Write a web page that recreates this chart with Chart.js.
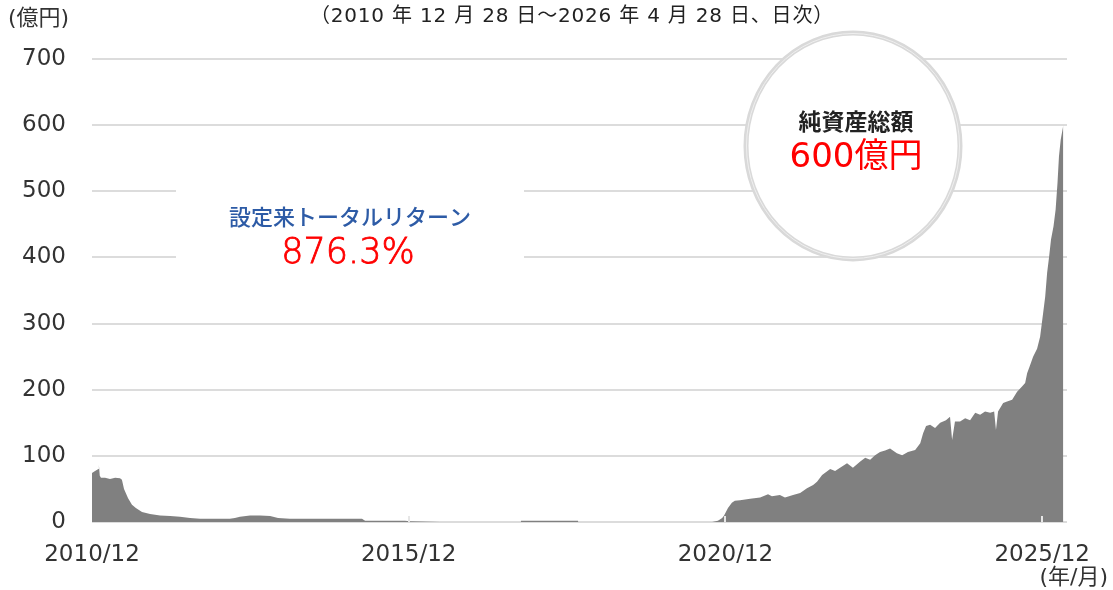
<!DOCTYPE html>
<html>
<head>
<meta charset="utf-8">
<script src="https://cdn.jsdelivr.net/npm/chart.js@4"></script>
<style>
  html, body { margin: 0; padding: 0; background: #fff; }
  #wrap { width: 1113px; height: 590px; }
</style>
</head>
<body>
<div id="wrap"><canvas id="assetChart" width="1113" height="590"></canvas></div>
<script>
// 純資産総額 (億円)
const dates = [
  '2010-12-28', '2011-01-15', '2011-02-04', '2011-02-07', '2011-02-12', '2011-02-19', '2011-03-12',
  '2011-04-10', '2011-05-09', '2011-06-07', '2011-06-18', '2011-06-30', '2011-07-23', '2011-08-15',
  '2011-09-07', '2011-10-12', '2011-11-28', '2012-01-25', '2012-03-22', '2012-05-18', '2012-07-15',
  '2012-09-12', '2013-03-01', '2013-03-30', '2013-04-29', '2013-06-26', '2013-08-23', '2013-10-20',
  '2013-12-05', '2014-02-12', '2014-09-30', '2015-04-02', '2015-04-20', '2015-12-06', '2016-01-05',
  '2016-04-29', '2016-06-26', '2017-10-05', '2017-10-06', '2018-08-30', '2018-08-31', '2020-10-12',
  '2020-11-15', '2020-12-09', '2020-12-20', '2021-01-12', '2021-02-04', '2021-02-21', '2021-03-21',
  '2021-05-18', '2021-07-15', '2021-08-30', '2021-09-22', '2021-11-07', '2021-12-06', '2022-01-22',
  '2022-03-02', '2022-04-11', '2022-05-16', '2022-06-08', '2022-07-07', '2022-08-23', '2022-09-21',
  '2022-10-19', '2022-11-29', '2023-01-02', '2023-02-12', '2023-03-12', '2023-04-10', '2023-05-08',
  '2023-06-06', '2023-07-05', '2023-08-03', '2023-09-12', '2023-10-12', '2023-11-15', '2023-12-26',
  '2024-01-25', '2024-02-11', '2024-02-28', '2024-03-21', '2024-04-19', '2024-05-18', '2024-06-21',
  '2024-07-14', '2024-07-26', '2024-08-12', '2024-09-11', '2024-10-10', '2024-11-08', '2024-12-07',
  '2025-01-05', '2025-02-03', '2025-03-02', '2025-03-25', '2025-04-05', '2025-04-17', '2025-05-16',
  '2025-06-08', '2025-07-07', '2025-08-05', '2025-09-03', '2025-09-21', '2025-10-02', '2025-10-19',
  '2025-11-06', '2025-11-29', '2025-12-16', '2026-01-03', '2026-01-15', '2026-01-26', '2026-02-07',
  '2026-02-18', '2026-03-02', '2026-03-14', '2026-03-25', '2026-04-03', '2026-04-13', '2026-04-28'
];
const netAssets = [
  74, 77, 80, 86, 70, 67, 67,
  65, 67, 66, 64, 50, 36, 26,
  21, 15, 12, 10, 9, 8, 6,
  5, 5, 6, 8, 10, 10, 9,
  6, 5, 5, 5, 2, 2, 1,
  0.5, 0, 0, 2, 2, 0, 0,
  2, 6, 10, 21, 29, 32, 33,
  35, 37, 42, 39, 41, 37, 41,
  44, 51, 56, 61, 71, 80, 77,
  82, 89, 82, 91, 97, 94, 101,
  106, 108, 111, 104, 101, 106, 109,
  119, 134, 145, 147, 142, 150, 154,
  159, 124, 152, 152, 157, 154, 165,
  162, 167, 165, 167, 139, 167, 180,
  182, 185, 197, 205, 210, 225, 237,
  250, 262, 280, 316, 341, 377, 401,
  427, 447, 472, 513, 553, 578, 600
];

// x axis in months since 2010/12/28
const tickMonths = [0, 60, 120, 180];
const tickLabels = ['2010/12', '2015/12', '2020/12', '2025/12'];
const yMax = 700;
const yStep = 100;

function toMonth(d) {
  const [y, m, day] = d.split('-').map(Number);
  return (y - 2010) * 12 + (m - 12) + (day - 28) / 30.44;
}

const points = dates.map((d, i) => ({ x: toMonth(d), y: netAssets[i] }));

const tickFont = { family: '"DejaVu Sans", "Noto Sans CJK JP"', size: 23 };

// texts and decorations around the plot
const decorations = {
  id: 'decorations',
  beforeDatasetsDraw(chart) {
    const { ctx } = chart;
    ctx.save();
    // white panel behind the return label
    ctx.fillStyle = '#fff';
    ctx.fillRect(176, 182, 348, 96);
    ctx.restore();
  },
  afterDatasetsDraw(chart) {
    const { ctx } = chart;
    const xs = chart.scales.x;
    const base = chart.scales.y.getPixelForValue(0);
    ctx.save();
    ctx.strokeStyle = '#e6e6e6';
    ctx.lineWidth = 2;
    tickMonths.slice(1).forEach(m => {
      const px = Math.round(xs.getPixelForValue(m));
      ctx.beginPath();
      ctx.moveTo(px, base - 6);
      ctx.lineTo(px, base);
      ctx.stroke();
    });
    ctx.restore();
  },
  afterDraw(chart) {
    const { ctx } = chart;
    ctx.save();

    // title
    ctx.fillStyle = '#222';
    ctx.textBaseline = 'middle';
    ctx.textAlign = 'center';
    ctx.font = '20px "DejaVu Sans", "Noto Sans CJK JP"';
    ctx.letterSpacing = '0.8px';
    ctx.fillText('（2010 年 12 月 28 日～2026 年 4 月 28 日、日次）', 572, 17);
    ctx.letterSpacing = '0px';

    // unit labels
    ctx.font = '22px "DejaVu Sans", "Noto Sans CJK JP"';
    ctx.fillStyle = '#333';
    ctx.textAlign = 'left';
    ctx.fillText('(億円)', 8, 19);
    ctx.textAlign = 'right';
    ctx.fillText('(年/月)', 1108, 578);

    // return label
    ctx.textAlign = 'center';
    ctx.fillStyle = '#2d5ba6';
    ctx.font = '500 22px "Noto Sans CJK JP"';
    ctx.fillText('設定来トータルリターン', 350, 217);
    ctx.fillStyle = '#ff0000';
    ctx.strokeStyle = '#ff0000';
    ctx.lineWidth = 0.8;
    ctx.font = '200 35px "DejaVu Sans"';
    ctx.fillText('876.3%', 348, 254);
    ctx.strokeText('876.3%', 348, 254);

    // net assets badge
    const cx = 853, cy = 146, rx = 107, ry = 113;
    ctx.beginPath();
    ctx.ellipse(cx, cy, rx, ry, 0, 0, Math.PI * 2);
    ctx.fillStyle = '#fff';
    ctx.fill();
    ctx.lineWidth = 5;
    ctx.strokeStyle = '#d9d9d9';
    ctx.stroke();
    ctx.beginPath();
    ctx.ellipse(cx, cy, rx - 0.5, ry - 0.5, 0, 0, Math.PI * 2);
    ctx.lineWidth = 1;
    ctx.strokeStyle = '#efefef';
    ctx.stroke();

    ctx.fillStyle = '#222';
    ctx.font = 'bold 23px "Noto Sans CJK JP"';
    ctx.fillText('純資産総額', 856, 121);
    ctx.fillStyle = '#ff0000';
    ctx.font = '34px "DejaVu Sans", "Noto Sans CJK JP"';
    ctx.fillText('600億円', 856, 158);

    ctx.restore();
  }
};

new Chart(document.getElementById('assetChart'), {
  type: 'line',
  data: {
    datasets: [{
      label: '純資産総額',
      data: points,
      fill: 'origin',
      backgroundColor: '#808080',
      borderColor: 'rgba(0,0,0,0)',
      borderWidth: 0,
      pointRadius: 0,
      tension: 0
    }]
  },
  options: {
    responsive: false,
    animation: false,
    devicePixelRatio: 1,
    layout: { padding: { top: 59, right: 46, left: 0, bottom: 0 } },
    plugins: {
      legend: { display: false },
      tooltip: { enabled: false }
    },
    scales: {
      x: {
        type: 'linear',
        min: 0,
        max: 184.7,
        afterBuildTicks(scale) {
          scale.ticks = tickMonths.map(v => ({ value: v }));
        },
        ticks: {
          autoSkip: false,
          maxRotation: 0,
          padding: 11,
          color: '#333',
          font: tickFont,
          callback: (v, i) => tickLabels[i]
        },
        grid: { display: false },
        border: { display: false },
        afterFit(scale) { scale.height = 68; }
      },
      y: {
        min: 0,
        max: yMax,
        ticks: {
          stepSize: yStep,
          padding: 26,
          color: '#333',
          font: tickFont
        },
        grid: { color: '#dcdcdc', lineWidth: 2, drawTicks: false },
        border: { display: false },
        afterFit(scale) { scale.width = 92; }
      }
    }
  },
  plugins: [decorations]
});
</script>
</body>
</html>
